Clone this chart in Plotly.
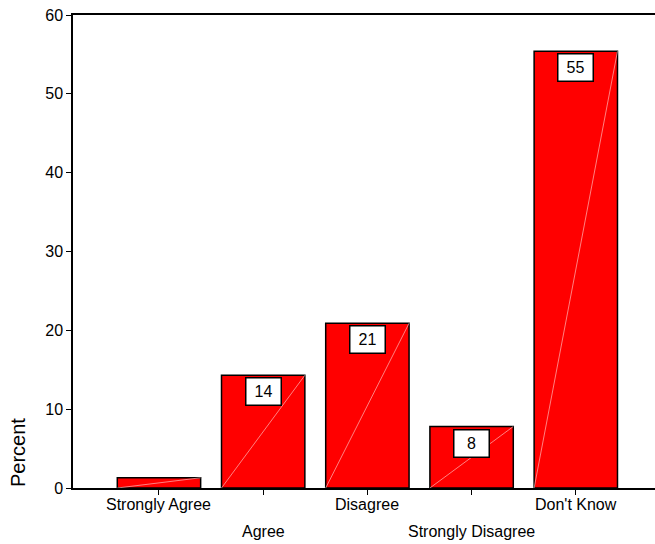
import plotly.graph_objects as go

# Survey responses (percent of respondents)
categories = ["Strongly Agree", "Agree", "Disagree", "Strongly Disagree", "Don't Know"]
percents = [1.3, 14.3, 20.9, 7.8, 55.4]
y_ticks = [0, 10, 20, 30, 40, 50, 60]

FONT = "Arial, Liberation Sans, sans-serif"
BAR_W = 0.8
xs = list(range(len(categories)))

fig = go.Figure()

fig.add_trace(go.Bar(
    x=xs, y=percents, width=BAR_W,
    marker=dict(color="#ff0000", line=dict(color="black", width=1.5)),
    hoverinfo="skip", showlegend=False,
))

# faint diagonal highlight across each bar
for x, v in zip(xs, percents):
    fig.add_trace(go.Scatter(
        x=[x - BAR_W / 2, x + BAR_W / 2], y=[0, v], mode="lines",
        line=dict(color="rgba(255,215,215,0.75)", width=0.8),
        hoverinfo="skip", showlegend=False,
    ))

annotations = []
# value labels in white boxes just under the bar tops
for x, v in zip(xs, percents):
    if v < 5:
        continue
    annotations.append(dict(
        x=x, y=v, xref="x", yref="y", text=f"{round(v)}",
        showarrow=False, yanchor="top", yshift=-2,
        font=dict(family=FONT, size=16, color="black"),
        bgcolor="white", bordercolor="black", borderwidth=1.5,
        borderpad=3, width=28, height=20,
    ))

# staggered category labels
for i, (x, c) in enumerate(zip(xs, categories)):
    annotations.append(dict(
        x=x, y=0, xref="x", yref="paper", text=c, showarrow=False,
        yanchor="top", yshift=-6 if i % 2 == 0 else -33,
        font=dict(family=FONT, size=16, color="black"),
    ))

# y-axis title sitting low beside the axis
annotations.append(dict(
    x=(17.5 - 73) / 582, y=(488 - 452.5) / 473, xref="paper", yref="paper",
    text="Percent", textangle=-90, showarrow=False,
    xanchor="center", yanchor="middle",
    font=dict(family=FONT, size=20, color="black"),
))

fig.update_layout(
    width=655, height=544,
    margin=dict(l=73, r=0, t=15, b=56),
    paper_bgcolor="white", plot_bgcolor="white",
    bargap=0.2,
    annotations=annotations,
    xaxis=dict(
        range=[-0.825, 4.76], tickvals=xs, ticktext=[""] * len(xs),
        showgrid=False, zeroline=False,
        showline=True, linecolor="black", linewidth=1.5, mirror=True,
        ticks="outside", ticklen=5, tickcolor="black", tickwidth=1,
    ),
    yaxis=dict(
        range=[0, 60], tickvals=y_ticks, ticktext=[str(t) for t in y_ticks],
        showgrid=False, zeroline=False,
        showline=True, linecolor="black", linewidth=1.5,
        ticks="outside", ticklen=5, tickcolor="black", tickwidth=1,
        tickfont=dict(family=FONT, size=16, color="black"),
    ),
)

fig.write_html("out.html")
